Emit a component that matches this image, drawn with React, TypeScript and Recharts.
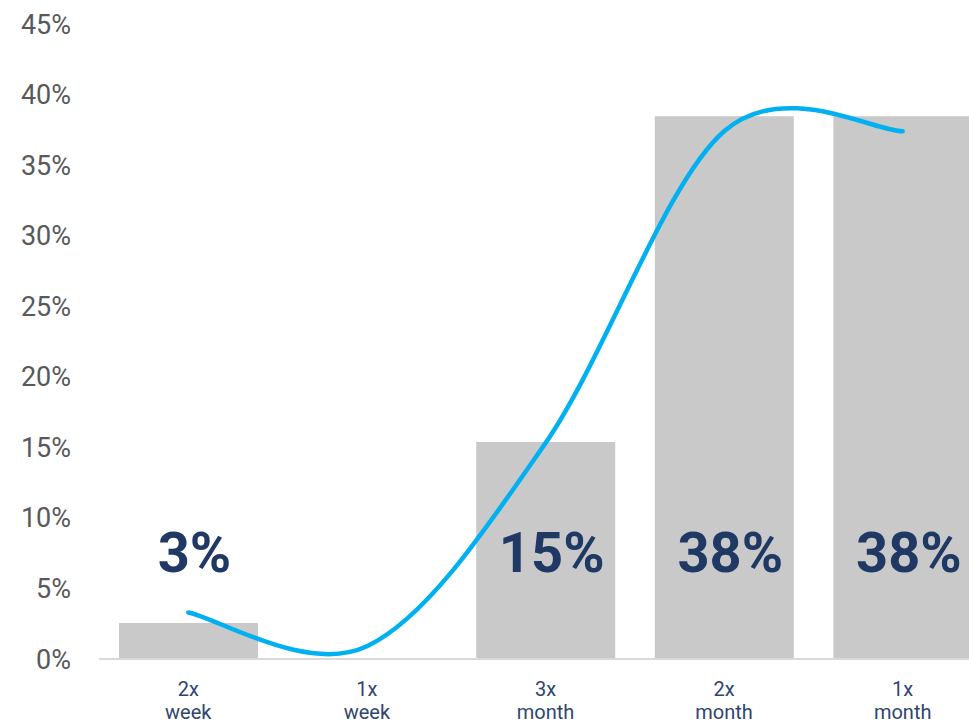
import React from "react";
import { ComposedChart, Bar, Line, XAxis, YAxis, LabelList } from "recharts";

const categories = ["2x week", "1x week", "3x month", "2x month", "1x month"];
const barValues = [2.56, 0, 15.38, 38.46, 38.46];
const lineValues = [3.3, 0.9, 15.3, 37.4, 37.4];
const yTicks = [0, 5, 10, 15, 20, 25, 30, 35, 40, 45];

const data = categories.map((c, i) => ({ name: c, share: barValues[i], trend: lineValues[i] }));

const FONT = "Roboto, 'Noto Sans', sans-serif";

// spreadsheet-style smoothing (uniform Catmull-Rom, end points repeated)
function smoothCurve(context: any) {
  let pts: [number, number][] = [];
  return {
    areaStart() {},
    areaEnd() {},
    lineStart() {
      pts = [];
    },
    point(x: number, y: number) {
      pts.push([+x, +y]);
    },
    lineEnd() {
      if (!pts.length) return;
      context.moveTo(pts[0][0], pts[0][1]);
      for (let i = 0; i < pts.length - 1; i++) {
        const p0 = pts[i - 1] || pts[i];
        const p1 = pts[i];
        const p2 = pts[i + 1];
        const p3 = pts[i + 2] || pts[i + 1];
        context.bezierCurveTo(
          p1[0] + (p2[0] - p0[0]) / 6,
          p1[1] + (p2[1] - p0[1]) / 6,
          p2[0] - (p3[0] - p1[0]) / 6,
          p2[1] - (p3[1] - p1[1]) / 6,
          p2[0],
          p2[1]
        );
      }
    },
  };
}

function XTick(props: any) {
  const { x, y, payload } = props;
  const [a, b] = String(payload.value).split(" ");
  return (
    <text x={x} y={y} textAnchor="middle" fill="#2f4570" fontFamily={FONT} fontSize={20}>
      <tspan x={x} dy={35}>{a}</tspan>
      <tspan x={x} dy={23}>{b}</tspan>
    </text>
  );
}

function BigLabel(props: any) {
  const { x, y, width, height, value } = props;
  if (!value) return null;
  const bottom = Number(y) + Number(height);
  return (
    <text
      x={Number(x) + Number(width) / 2 + 6}
      y={bottom - 87}
      textAnchor="middle"
      fill="#1f3864"
      fontFamily={FONT}
      fontWeight={700}
      fontSize={56}
    >
      {Math.round(Number(value))}%
    </text>
  );
}

export default function App() {
  return (
    <div style={{ position: "absolute", left: 0, top: 0, width: 969, height: 722, overflow: "hidden", background: "#fff" }}>
      <ComposedChart
        width={992}
        height={722}
        data={data}
        margin={{ top: 24, right: 0, bottom: 0, left: 0 }}
      >
        <XAxis
          dataKey="name"
          height={63}
          axisLine={{ stroke: "#d9d9d9", strokeWidth: 2 }}
          tickLine={false}
          tickSize={0}
          tick={<XTick />}
          interval={0}
        />
        <YAxis
          width={99}
          domain={[0, 45]}
          ticks={yTicks}
          axisLine={false}
          tickLine={false}
          tickSize={0}
          tickMargin={28}
          tickFormatter={(v) => `${v}%`}
          tick={{ fill: "#595959", fontFamily: FONT, fontSize: 27 }}
        />
        <Bar dataKey="share" fill="#c9c9c9" barSize={139} isAnimationActive={false}>
          <LabelList dataKey="share" content={<BigLabel />} />
        </Bar>
        <Line
          type={smoothCurve as any}
          dataKey="trend"
          stroke="#00b0f0"
          strokeWidth={4.5}
          strokeLinecap="round"
          dot={false}
          activeDot={false}
          isAnimationActive={false}
        />
      </ComposedChart>
    </div>
  );
}
